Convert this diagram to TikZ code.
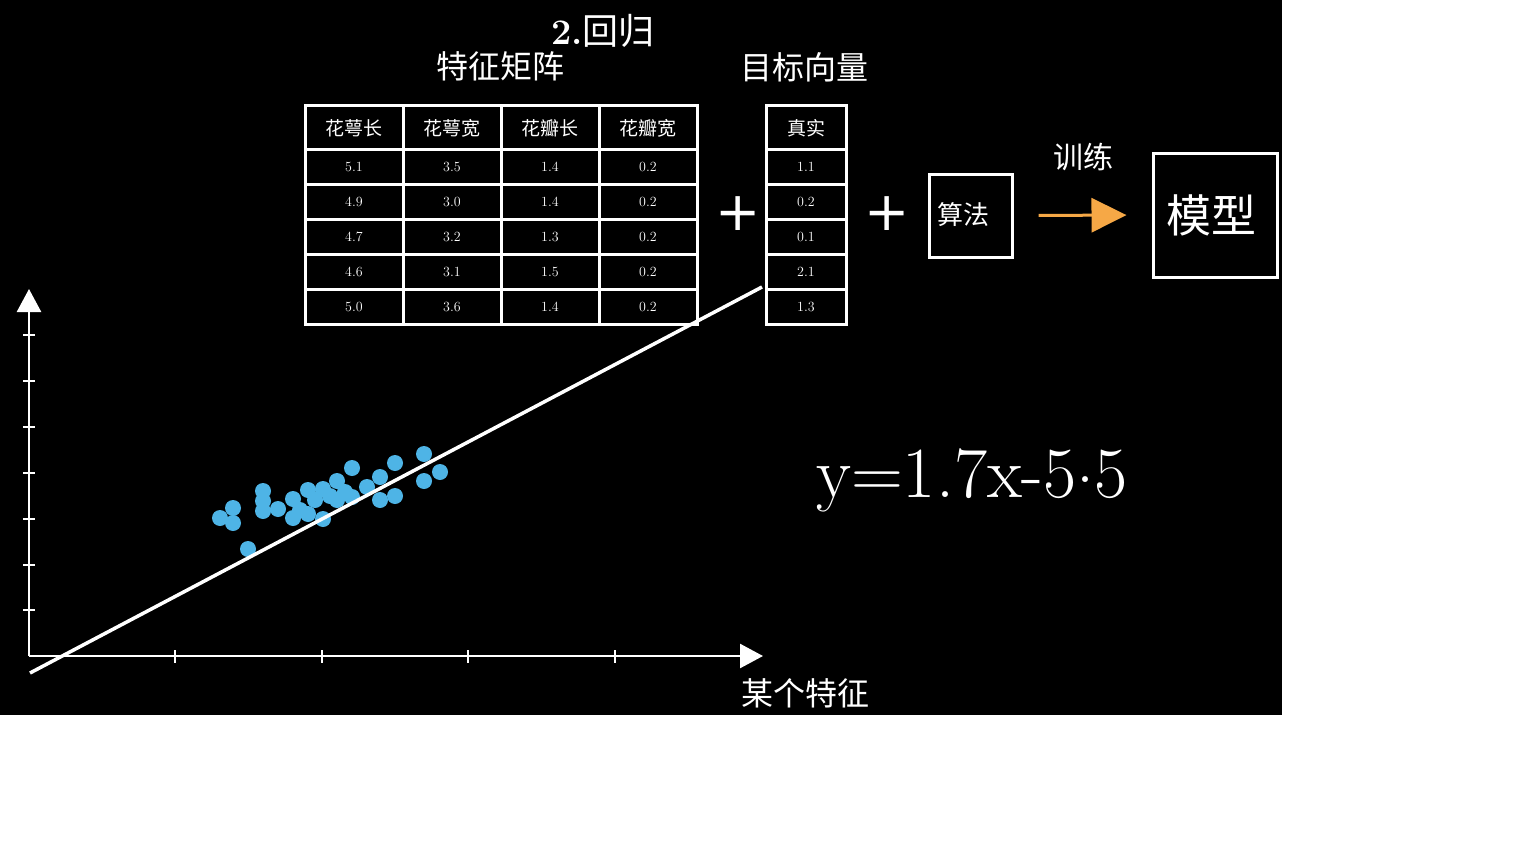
\documentclass[tikz,border=0pt]{standalone}
\usepackage{fontspec}
\newfontfamily\cjk{Noto Sans CJK SC}
\newfontfamily\djv{DejaVu Sans}
\usetikzlibrary{arrows.meta}
\definecolor{dotblue}{RGB}{78,180,230}
\definecolor{arrorange}{RGB}{246,168,70}
\begin{document}
\begin{tikzpicture}[x=1pt,y=-1pt,
  every node/.style={text=white, inner sep=0pt},
  grid/.style={draw=white, line width=3pt},
  head/.style={font=\cjk\fontsize{19}{22}\selectfont},
  num/.style={font=\fontsize{14}{16}\selectfont},
  ttl/.style={font=\cjk\fontsize{32}{38}\selectfont},
  dotnode/.style={circle, fill=dotblue, draw=none, minimum size=16pt},
  axisline/.style={draw=white, line width=2.5pt},
  tickline/.style={draw=white, line width=2pt},
  box/.style={draw=white, line width=3pt, rectangle},
  plus/.style={font=\djv\fontsize{54}{60}\selectfont},
  ]
\useasboundingbox (0,0) rectangle (1536,864);
\fill[white] (0,0) rectangle (1536,864);
\fill[black] (0,0) rectangle (1282,715);

% titles
\node[font=\fontsize{36}{40}\selectfont] (title) at (603,31) {{\bfseries 2.}{\cjk 回归}};
\node[ttl] (fm) at (500,66) {特征矩阵};
\node[ttl] (tv) at (804,67) {目标向量};

% feature table
\draw[grid] (305,106) rectangle (697,324);
\foreach \x in {403,501,599} \draw[grid] (\x,106) -- (\x,324);
\foreach \y in {149,184,219,254,289} \draw[grid] (305,\y) -- (697,\y);
\node[head] (h1) at (354,128) {花萼长};
\node[head] (h2) at (452,128) {花萼宽};
\node[head] (h3) at (550,128) {花瓣长};
\node[head] (h4) at (648,128) {花瓣宽};

% target vector
\draw[grid] (766,106) rectangle (846,324);
\foreach \y in {149,184,219,254,289} \draw[grid] (766,\y) -- (846,\y);
\node[head] (h5) at (806,128) {真实};

\foreach \a/\b/\c/\d/\t/\y [count=\i] in
  {5.1/3.5/1.4/0.2/1.1/167, 4.9/3.0/1.4/0.2/0.2/202, 4.7/3.2/1.3/0.2/0.1/237,
   4.6/3.1/1.5/0.2/2.1/272, 5.0/3.6/1.4/0.2/1.3/307}{
  \node[num] (r\i c1) at (354,\y) {\a};
  \node[num] (r\i c2) at (452,\y) {\b};
  \node[num] (r\i c3) at (550,\y) {\c};
  \node[num] (r\i c4) at (648,\y) {\d};
  \node[num] (r\i t) at (806,\y) {\t};
}

% plus signs
\node[plus] (p1) at (738,214) {+};
\node[plus] (p2) at (887,214) {+};

% algorithm box
\node[box, minimum width=83pt, minimum height=83pt] (alg) at (970.5,215.5) {};
\node[font=\cjk\fontsize{26}{30}\selectfont] (algt) at (963,215) {算法};

% model box
\node[box, minimum width=124pt, minimum height=124pt] (model) at (1215,215) {};
\node[font=\cjk\fontsize{45}{50}\selectfont] (modelt) at (1211,215) {模型};

% training arrow
\node[font=\cjk\fontsize{30}{34}\selectfont] (train) at (1083,157) {训练};
\draw[arrorange, line width=3pt, -{Triangle[length=35pt,width=34pt]},
  shorten <=25pt, shorten >=25pt] (alg.east) -- (model.west);

% equation
\node[font=\fontsize{72}{76}\selectfont, anchor=base] (eq) at (972,497)
  {y=1.7x-5\raisebox{0.2em}{.}5};

% axes
\coordinate (o) at (29,656);
\coordinate (ytip) at (29,289);
\coordinate (xtip) at (763,656);
\draw[axisline, -{Triangle[length=23pt,width=24pt]}] (o) -- (ytip);
\draw[axisline, -{Triangle[length=23pt,width=24pt]}] (o) -- (xtip);
\foreach \y in {335,381,427,473,519,565,610} \draw[tickline] (23,\y) -- (35,\y);
\foreach \x in {175,322,468,615} \draw[tickline] (\x,650) -- (\x,663);
\node[font=\cjk\fontsize{32}{38}\selectfont] (xl) at (805,693) {某个特征};

% data points
\foreach \p [count=\k] in {(220,518),(233,508),(233,523),(248,549),(263,491),(263,501),(263,511),
  (278,509),(293,499),(293,518),(300,510),(308,490),(308,514),(315,500),(323,489),(323,519),
  (330,496),(337,481),(337,500),(345,492),(352,468),(352,497),(367,487),(380,477),(380,500),
  (395,463),(395,496),(424,454),(424,481),(440,472)}
  \node[dotnode] (d\k) at \p {};

% regression line
\coordinate (l0) at (30,673);
\coordinate (l1) at (762,287);
\draw[white, line width=3.5pt] (l0) -- (l1);
\end{tikzpicture}
\end{document}
